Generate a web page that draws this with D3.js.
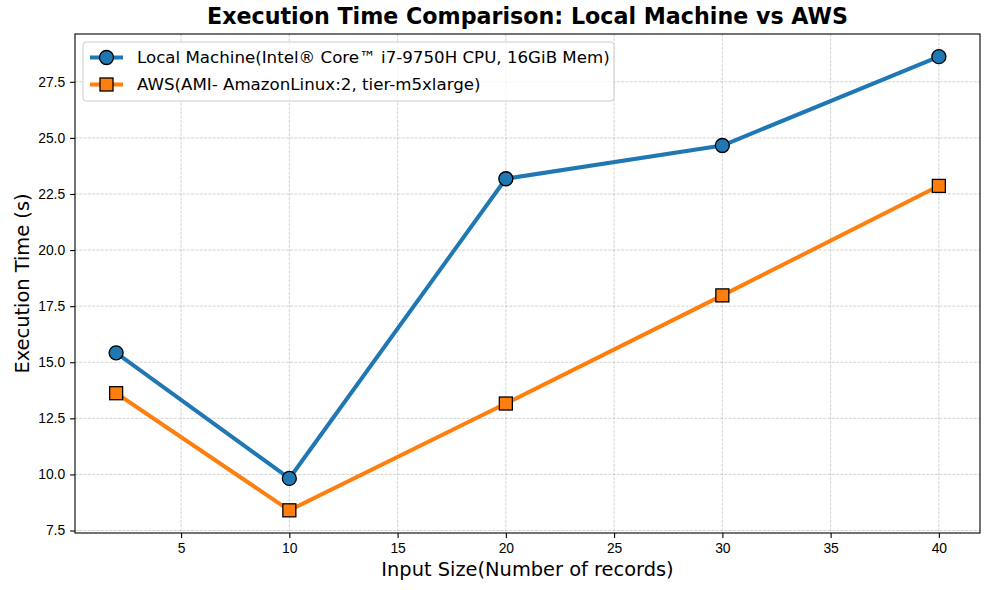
<!DOCTYPE html>
<html>
<head>
<meta charset="utf-8">
<script src="https://cdn.jsdelivr.net/npm/d3@7"></script>
<style>
  body { margin: 0; background: #fff; }
  svg { font-family: "DejaVu Sans", sans-serif; }
  .tick text { font-size: 13.9px; fill: #000; }
</style>
</head>
<body>
<div id="chart"></div>
<script>
// data
const inputSizes = [2, 10, 20, 30, 40];
const localTimes = [15.42, 9.82, 23.18, 24.66, 28.62];
const awsTimes = [13.62, 8.4, 13.16, 17.98, 22.86];
const seriesNames = [
	"Local Machine(Intel\u00AE Core\u2122 i7-9750H CPU, 16GiB Mem)",
	"AWS(AMI- AmazonLinux:2, tier-m5xlarge)"
];
const xTicks = [5, 10, 15, 20, 25, 30, 35, 40];
const yTicks = [7.5, 10, 12.5, 15, 17.5, 20, 22.5, 25, 27.5];

const W = 989, H = 590;
const m = {left: 75, right: 9, top: 34, bottom: 57};
const blue = "#1f77b4", orange = "#ff7f0e";

const svg = d3.select("#chart").append("svg")
	.attr("width", W)
	.attr("height", H);

// matplotlib style 5% margins
function padded(vals) {
	const lo = d3.min(vals), hi = d3.max(vals), r = hi - lo;
	return [lo - r * 0.05, hi + r * 0.05];
}

const x = d3.scaleLinear()
	.domain(padded(inputSizes))
	.range([m.left, W - m.right]);
const y = d3.scaleLinear()
	.domain(padded(localTimes.concat(awsTimes)))
	.range([H - m.bottom, m.top]);

//-----------------------------------------------------
// grid
const grid = svg.append("g")
	.attr("stroke", "#b0b0b0")
	.attr("stroke-opacity", 0.7)
	.attr("stroke-width", 0.8)
	.attr("stroke-dasharray", "3,1.3");
grid.selectAll(".gx").data(xTicks).enter().append("line")
	.attr("x1", d => x(d)).attr("x2", d => x(d))
	.attr("y1", m.top).attr("y2", H - m.bottom);
grid.selectAll(".gy").data(yTicks).enter().append("line")
	.attr("y1", d => y(d)).attr("y2", d => y(d))
	.attr("x1", m.left).attr("x2", W - m.right);

//-----------------------------------------------------
// axes
const xAxis = svg.append("g")
	.attr("transform", "translate(0," + (H - m.bottom) + ")")
	.call(d3.axisBottom(x).tickValues(xTicks).tickSize(4.9).tickPadding(4.9).tickFormat(d3.format("d")));
const yAxis = svg.append("g")
	.attr("transform", "translate(" + m.left + ",0)")
	.call(d3.axisLeft(y).tickValues(yTicks).tickSize(4.9).tickPadding(4.9).tickFormat(d3.format(".1f")));
[xAxis, yAxis].forEach(function(a) {
	a.select(".domain").remove();
	a.selectAll(".tick line").attr("stroke", "#000").attr("stroke-width", 1.1);
});

svg.append("rect")
	.attr("x", m.left).attr("y", m.top)
	.attr("width", W - m.left - m.right)
	.attr("height", H - m.top - m.bottom)
	.attr("fill", "none")
	.attr("stroke", "#000")
	.attr("stroke-width", 1.1);

//-----------------------------------------------------
// lines + markers
const series = [
	{name: seriesNames[0], vals: localTimes, color: blue, shape: "circle"},
	{name: seriesNames[1], vals: awsTimes, color: orange, shape: "square"}
];
const line = d3.line()
	.x(d => x(d[0]))
	.y(d => y(d[1]));

function marker(g, shape, color) {
	if (shape === "circle") {
		g.append("circle").attr("r", 7)
			.attr("fill", color).attr("stroke", "#000").attr("stroke-width", 1.3);
	} else {
		g.append("rect").attr("x", -6.5).attr("y", -6.5)
			.attr("width", 13).attr("height", 13)
			.attr("fill", color).attr("stroke", "#000").attr("stroke-width", 1.3);
	}
}

series.forEach(function(s) {
	const pts = d3.zip(inputSizes, s.vals);
	svg.append("path")
		.datum(pts)
		.attr("d", line)
		.attr("fill", "none")
		.attr("stroke", s.color)
		.attr("stroke-width", 4)
		.attr("stroke-linejoin", "round")
		.attr("stroke-linecap", "square");
	pts.forEach(function(p) {
		const g = svg.append("g").attr("transform", "translate(" + x(p[0]) + "," + y(p[1]) + ")");
		marker(g, s.shape, s.color);
	});
});

//-----------------------------------------------------
// legend
const leg = svg.append("g").attr("transform", "translate(83,42)");
leg.append("rect")
	.attr("width", 531).attr("height", 59)
	.attr("rx", 3)
	.attr("fill", "#fff").attr("fill-opacity", 0.8)
	.attr("stroke", "#cccccc");
series.forEach(function(s, i) {
	const row = leg.append("g").attr("transform", "translate(0," + (15.5 + i * 27) + ")");
	row.append("line")
		.attr("x1", 7).attr("x2", 40)
		.attr("stroke", s.color).attr("stroke-width", 4);
	marker(row.append("g").attr("transform", "translate(23.5,0)"), s.shape, s.color);
	row.append("text")
		.attr("x", 54).attr("dy", "0.35em")
		.attr("font-size", "16.67px")
		.text(s.name);
});

//-----------------------------------------------------
// titles
svg.append("text")
	.attr("x", (m.left + W - m.right) / 2).attr("y", 24)
	.attr("text-anchor", "middle")
	.attr("font-size", "22.2px").attr("font-weight", "bold")
	.text("Execution Time Comparison: Local Machine vs AWS");
svg.append("text")
	.attr("x", (m.left + W - m.right) / 2).attr("y", 576)
	.attr("text-anchor", "middle")
	.attr("font-size", "19.4px")
	.text("Input Size(Number of records)");
svg.append("text")
	.attr("transform", "translate(29," + ((m.top + H - m.bottom) / 2) + ") rotate(-90)")
	.attr("text-anchor", "middle")
	.attr("font-size", "19.4px")
	.text("Execution Time (s)");
</script>
</body>
</html>
